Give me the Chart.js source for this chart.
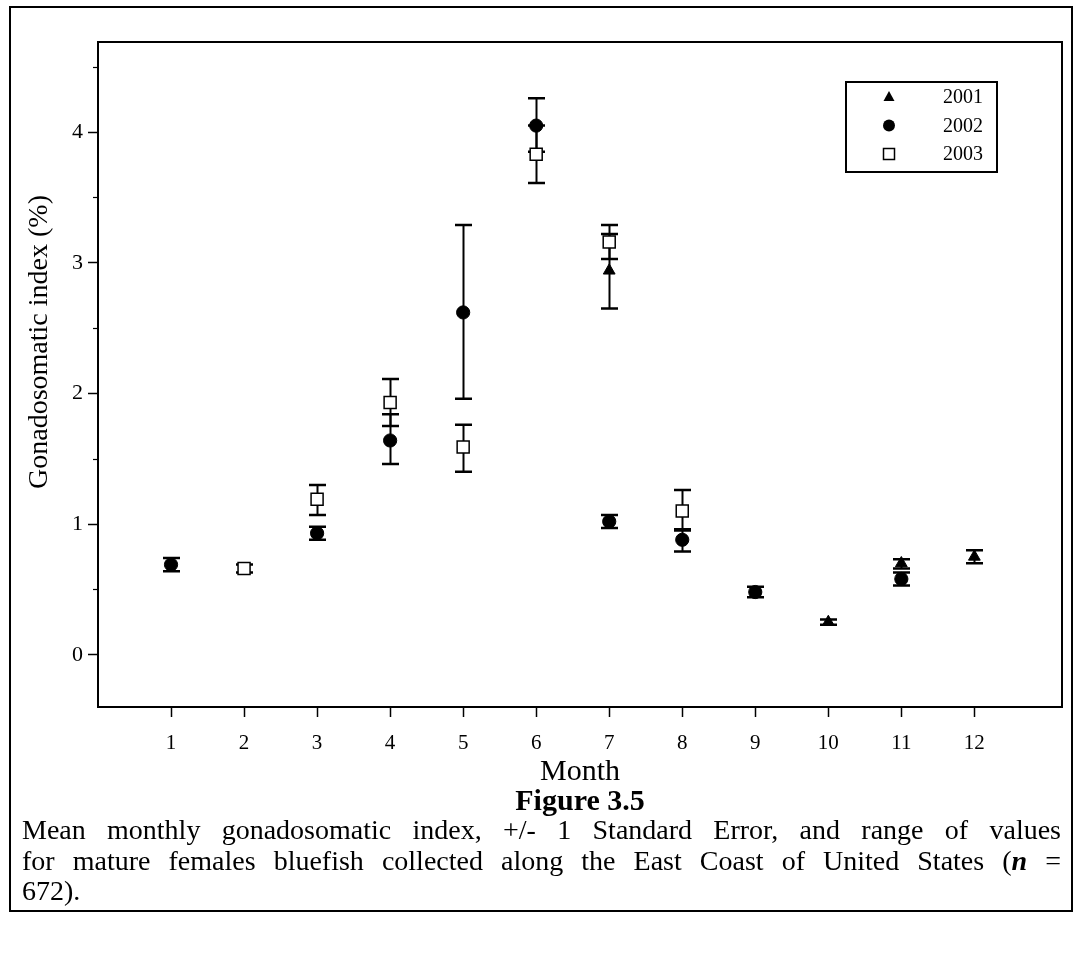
<!DOCTYPE html>
<html><head><meta charset="utf-8">
<script src="https://cdn.jsdelivr.net/npm/chart.js@4.4.1/dist/chart.umd.min.js"></script>
<style>
html,body{margin:0;padding:0;background:#fff;}
#wrap{position:relative;width:1077px;height:966px;overflow:hidden;background:#fff;}
#frame{position:absolute;left:9px;top:6px;width:1064px;height:906px;border:2px solid #000;box-sizing:border-box;}
#c{position:absolute;left:0;top:0;}
#fig{position:absolute;left:0;width:1160px;top:783px;text-align:center;font:bold 30px 'Liberation Serif',serif;color:#000;}
#cap{position:absolute;left:22px;width:1039px;top:815px;font:28px/30.5px 'Liberation Serif',serif;color:#000;}
#cap .ln2{text-align:justify;text-align-last:justify;white-space:nowrap;}
</style></head>
<body>
<div id="wrap">
<div id="frame"></div>
<canvas id="c" width="1077" height="800"></canvas>
<div id="fig">Figure 3.5</div>
<div id="cap"><div class="ln2">Mean monthly gonadosomatic index, +/- 1 Standard Error, and range of values</div><div class="ln2">for mature females bluefish collected along the East Coast of United States (<b><i>n</i></b> =</div><div>672).</div></div>
</div>
<script>
const months = [1,2,3,4,5,6,7,8,9,10,11,12];
const yTickValues = [0,1,2,3,4];
const yMinorValues = [0.5,1.5,2.5,3.5,4.5];
const seriesNames = ['2001','2002','2003'];

const gsi2001  = [null,null,null,null,null,null,2.94,null,null,0.25,0.70,0.75];
const low2001  = [null,null,null,null,null,null,2.65,null,null,0.23,0.66,0.70];
const high2001 = [null,null,null,null,null,null,3.22,null,null,0.27,0.73,0.80];

const gsi2002  = [0.69,null,0.93,1.64,2.62,4.05,1.02,0.88,0.48,null,0.58,null];
const low2002  = [0.64,null,0.88,1.46,1.96,3.85,0.97,0.79,0.44,null,0.53,null];
const high2002 = [0.74,null,0.98,1.84,3.29,4.26,1.07,0.96,0.52,null,0.63,null];

const gsi2003  = [null,0.66,1.19,1.93,1.59,3.83,3.16,1.10,null,null,null,null];
const low2003  = [null,0.63,1.07,1.75,1.40,3.61,3.03,0.95,null,null,null,null];
const high2003 = [null,0.69,1.30,2.11,1.76,4.05,3.29,1.26,null,null,null,null];

const yTitle = 'Gonadosomatic index (%)';
const xTitle = 'Month';

function pts(v, lo, hi){
  const out=[];
  months.forEach((m,i)=>{ if(v[i]!==null) out.push({x:m,y:v[i],lo:lo[i],hi:hi[i]}); });
  return out;
}

const FONT = "'Liberation Serif', serif";

const errorBars = {
  id:'errorBars',
  beforeDatasetsDraw(chart){
    const {ctx, scales:{x,y}} = chart;
    ctx.save();
    ctx.strokeStyle='#000';
    chart.data.datasets.forEach(ds=>{
      ds.data.forEach(p=>{
        const px=Math.round(x.getPixelForValue(p.x))+0.5;
        const yl=y.getPixelForValue(p.lo), yh=y.getPixelForValue(p.hi);
        ctx.lineWidth=2;
        ctx.beginPath(); ctx.moveTo(px,yl); ctx.lineTo(px,yh); ctx.stroke();
        ctx.lineWidth=2.5;
        ctx.beginPath();
        ctx.moveTo(px-8.5,yl); ctx.lineTo(px+8.5,yl);
        ctx.moveTo(px-8.5,yh); ctx.lineTo(px+8.5,yh);
        ctx.stroke();
      });
    });
    ctx.restore();
  }
};

function marker(ctx, style, x, y){
  ctx.save();
  ctx.strokeStyle='#000'; ctx.lineWidth=1.5;
  ctx.beginPath();
  if(style==='triangle'){
    ctx.fillStyle='#000';
    ctx.moveTo(x,y-6); ctx.lineTo(x+5.5,y+4); ctx.lineTo(x-5.5,y+4); ctx.closePath(); ctx.fill();
  } else if(style==='circle'){
    ctx.fillStyle='#000';
    ctx.arc(x,y,6,0,Math.PI*2); ctx.fill();
  } else {
    ctx.fillStyle='#fff';
    ctx.rect(x-5.5,y-5.5,11,11); ctx.fill(); ctx.stroke();
  }
  ctx.restore();
}

const decor = {
  id:'decor',
  afterDraw(chart){
    const {ctx, chartArea:a, scales:{y}} = chart;
    ctx.save();
    ctx.strokeStyle='#000';
    ctx.lineWidth=2;
    ctx.strokeRect(a.left, a.top, a.right-a.left, a.bottom-a.top);
    ctx.lineWidth=1.2;
    yMinorValues.forEach(v=>{
      const py=Math.round(y.getPixelForValue(v))+0.5;
      ctx.beginPath(); ctx.moveTo(a.left-5,py); ctx.lineTo(a.left,py); ctx.stroke();
    });
    // y axis title
    ctx.save();
    ctx.translate(40, 342);
    ctx.rotate(-Math.PI/2);
    ctx.font='28px '+FONT;
    ctx.fillStyle='#000';
    ctx.textAlign='center';
    ctx.textBaseline='middle';
    ctx.fillText(yTitle, 0, 0);
    ctx.restore();
    // legend
    const lx=846, ly=82, lw=151, lh=90;
    ctx.lineWidth=2;
    ctx.strokeRect(lx,ly,lw,lh);
    ctx.font='20px '+FONT;
    ctx.textBaseline='middle';
    ctx.textAlign='left';
    chart.data.datasets.forEach((ds,i)=>{
      const ry=ly+15+i*28.5;
      marker(ctx, ds.pointStyle, lx+43, ry);
      ctx.fillStyle='#000';
      ctx.fillText(ds.label, lx+97, ry+1);
    });
    ctx.restore();
  }
};

new Chart(document.getElementById('c'), {
  type:'scatter',
  data:{
    datasets:[
      {label:seriesNames[0], data:pts(gsi2001,low2001,high2001), pointStyle:'triangle', pointRadius:6.8,
       backgroundColor:'#000', borderColor:'#000', borderWidth:1, order:2},
      {label:seriesNames[1], data:pts(gsi2002,low2002,high2002), pointStyle:'circle', pointRadius:6.6,
       backgroundColor:'#000', borderColor:'#000', borderWidth:1, order:1},
      {label:seriesNames[2], data:pts(gsi2003,low2003,high2003), pointStyle:'rect', pointRadius:8.5,
       backgroundColor:'#fff', borderColor:'#000', borderWidth:1.5, order:0}
    ]
  },
  options:{
    responsive:false, animation:false,
    layout:{padding:{left:10, top:42, right:15, bottom:0}},
    plugins:{legend:{display:false}, tooltip:{enabled:false}},
    scales:{
      x:{type:'linear', min:0, max:13.2,
        afterBuildTicks:s=>{ s.ticks=months.map(v=>({value:v})); },
        afterFit:s=>{ s.height=93; },
        grid:{drawOnChartArea:false, drawTicks:true, tickLength:10, tickWidth:1.5, tickColor:'#000'},
        border:{display:true, color:'#000', width:2},
        ticks:{color:'#000', font:{family:FONT, size:21}, padding:14, maxRotation:0, autoSkip:false},
        title:{display:true, text:xTitle, color:'#000', font:{family:FONT, size:30}, padding:{top:0,bottom:10}}
      },
      y:{type:'linear', min:-0.40, max:4.69,
        afterBuildTicks:s=>{ s.ticks=yTickValues.map(v=>({value:v})); },
        afterFit:s=>{ s.width=88; },
        grid:{drawOnChartArea:false, drawTicks:true, tickLength:10, tickWidth:1.5, tickColor:'#000'},
        border:{display:true, color:'#000', width:2},
        ticks:{color:'#000', font:{family:FONT, size:22}, padding:5},
        title:{display:false}
      }
    }
  },
  plugins:[errorBars, decor]
});
</script>
</body></html>
